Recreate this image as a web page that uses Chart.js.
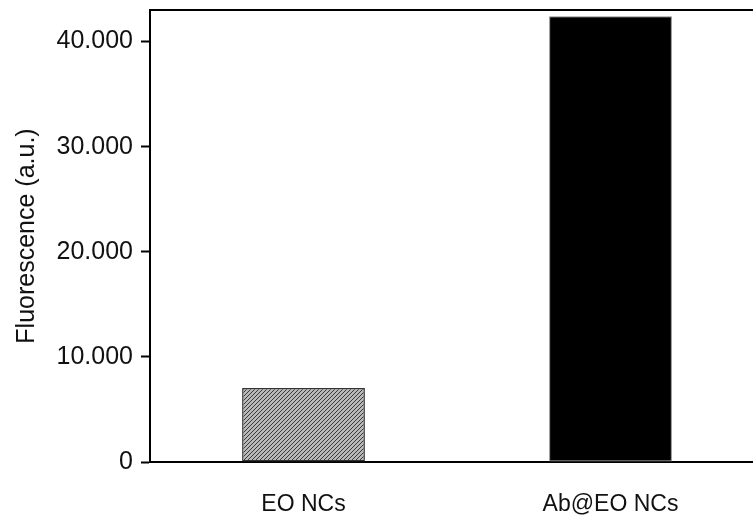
<!DOCTYPE html>
<html lang="en">

<head>
  <title>Fluorescence</title>
  <style>
    body { margin: 0; overflow: hidden; background: #fff; }
  </style>
</head>

<body>
  <canvas id="myChart" width="780" height="518"></canvas>
  <script src="https://cdn.jsdelivr.net/npm/chart.js@4.4.1/dist/chart.umd.min.js"></script>
  <script>
    var labels = ['EO NCs', 'Ab@EO NCs'];
    var fluorescence = [7050, 42400];
    var yTicks = [0, 10000, 20000, 30000, 40000];
    var yMax = 43000;

    // hatched gray fill for the first bar
    function hatch() {
      var c = document.createElement('canvas');
      c.width = 4;
      c.height = 4;
      var g = c.getContext('2d');
      g.fillStyle = '#b8b8b8';
      g.fillRect(0, 0, 4, 4);
      g.strokeStyle = '#3a3a3a';
      g.lineWidth = 1;
      g.beginPath();
      g.moveTo(0, 4); g.lineTo(4, 0);
      g.moveTo(-1, 1); g.lineTo(1, -1);
      g.moveTo(3, 5); g.lineTo(5, 3);
      g.stroke();
      return g.createPattern(c, 'repeat');
    }

    function fmt(v) {
      return String(v).replace(/\B(?=(\d{3})+(?!\d))/g, '.');
    }

    var frame = {
      id: 'frame',
      afterDatasetsDraw: function (chart) {
        var a = chart.chartArea;
        var g = chart.ctx;
        g.save();
        g.strokeStyle = '#000';
        g.lineWidth = 2;
        g.beginPath();
        g.moveTo(a.left, a.top);
        g.lineTo(a.right, a.top);
        g.stroke();
        g.restore();
      }
    };

    var ctx = document.getElementById('myChart').getContext('2d');
    var chart = new Chart(ctx, {
      type: 'bar',
      data: {
        labels: labels,
        datasets: [{
          data: fluorescence,
          backgroundColor: [hatch(), '#000'],
          borderColor: ['#333', '#888'],
          borderWidth: [1.5, 1],
          borderSkipped: false,
          barPercentage: 0.4,
          categoryPercentage: 1
        }]
      },
      options: {
        responsive: false,
        animation: false,
        layout: { padding: { top: 10, right: 16, left: 0, bottom: 0 } },
        plugins: {
          legend: { display: false },
          tooltip: { enabled: false }
        },
        scales: {
          x: {
            afterFit: function (s) { s.height = 56; s.paddingLeft = 0; s.paddingRight = 0; },
            grid: { display: false },
            border: { display: true, color: '#000', width: 2 },
            ticks: {
              padding: 21,
              color: '#111',
              font: { family: 'Liberation Sans, Arial, sans-serif', size: 23 }
            }
          },
          y: {
            min: 0,
            max: yMax,
            afterFit: function (s) { s.width = 150; s.paddingTop = 0; s.paddingBottom = 0; },
            afterBuildTicks: function (s) {
              s.ticks = yTicks.map(function (v) { return { value: v }; });
            },
            grid: {
              display: true,
              drawOnChartArea: false,
              drawTicks: true,
              tickLength: 9,
              tickWidth: 2,
              tickColor: '#000'
            },
            border: { display: true, color: '#000', width: 2 },
            ticks: {
              padding: 8,
              color: '#111',
              font: { family: 'Liberation Sans, Arial, sans-serif', size: 25 },
              callback: function (v) { return fmt(v); }
            },
            title: {
              display: true,
              text: 'Fluorescence (a.u.)',
              color: '#111',
              padding: { top: 12, bottom: 10 },
              font: { family: 'Liberation Sans, Arial, sans-serif', size: 25 }
            }
          }
        }
      },
      plugins: [frame]
    });
  </script>
</body>

</html>
